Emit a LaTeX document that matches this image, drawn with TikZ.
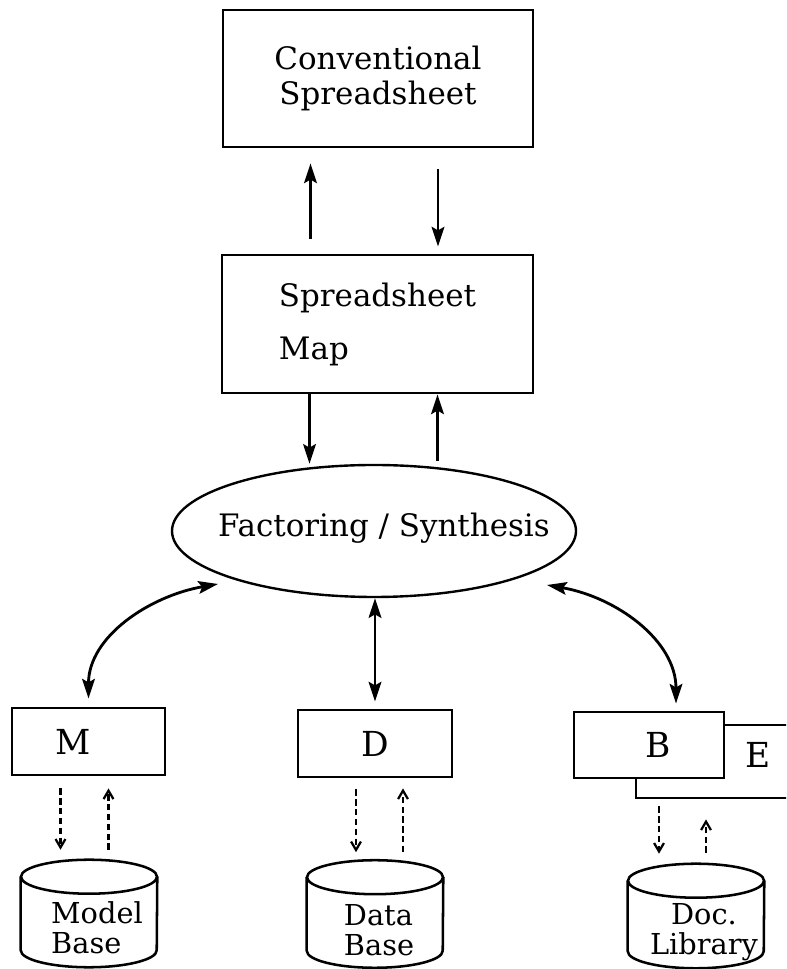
\documentclass[tikz,border=0pt]{standalone}
\usepackage{fontspec}
\setmainfont{DejaVu Serif}
\usetikzlibrary{arrows.meta,shapes.geometric}
\tikzset{
  box/.style={draw,line width=2pt,inner sep=0pt,fill=white},
  flow/.style={line width=2pt,-{Stealth[length=14pt,width=9pt,inset=2.5pt]}},
  link/.style={line width=2pt,{Stealth[length=14pt,width=9pt,inset=2.5pt]}-{Stealth[length=14pt,width=9pt,inset=2.5pt]}},
  query/.style={line width=1.6pt,dash pattern=on 4.5pt off 2.5pt,-{Straight Barb[length=6pt,width=7pt]}},
  big/.style={font=\fontsize{22}{25}\selectfont},
  letter/.style={font=\fontsize{24.5}{27}\selectfont},
  small/.style={font=\fontsize{20.5}{21.3}\selectfont},
}
% data base drawn round a named node
\newcommand{\dbase}[1]{%
  \draw[line width=1.8pt] ([yshift=-0.425cm]#1.north) ellipse [x radius=1.7cm,y radius=0.425cm];
  \draw[line width=1.8pt] ([yshift=-0.425cm]#1.north west) -- ([yshift=0.425cm]#1.south west)
    arc [start angle=180,end angle=360,x radius=1.7cm,y radius=0.425cm]
    -- ([yshift=-0.425cm]#1.north east);}
\begin{document}
\begin{tikzpicture}
\useasboundingbox (0,0) rectangle (19.65,24.225);
\clip (0,0) rectangle (19.65,24.225);
% coordinates
\coordinate (fsW) at ( 5.45, 9.625);%
\coordinate (fsE) at (13.675, 9.6);%
% upper boxes
\node[box,big,align=center,minimum width=7.75cm,minimum height=3.425cm] (Conv) at (9.45,22.2625) {Conventional\\Spreadsheet};
\node[box,big,align=left,minimum width=7.775cm,minimum height=3.45cm] (Map) at (9.4375,16.125) {Spreadsheet\\[12.7pt]Map};
\node[draw,line width=1.7pt,ellipse,inner sep=0pt,minimum width=10.1cm,minimum height=3.3cm] (FS) at (9.35,10.95) {};
\node[big] (FStxt) at (9.6,11.025) {Factoring / Synthesis};
% lower boxes
\node[box,letter,minimum width=3.825cm,minimum height=1.675cm] (M) at (2.2125,5.6875) {M\hspace{0.75cm}\null};
\node[box,letter,minimum width=3.85cm,minimum height=1.675cm] (D) at (9.375,5.6375) {D};
\node[box,minimum width=4.25cm,minimum height=1.825cm] (E) at (18.025,5.1875) {};
\node[letter] (Etxt) at (18.95,5.35) {E};
\node[box,letter,minimum width=3.75cm,minimum height=1.65cm] (B) at (16.225,5.6) {\hspace{0.45cm}B};
% bases
\node[minimum width=3.4cm,minimum height=2.675cm] (MB) at ( 2.225,1.3875) {};
\node[minimum width=3.4cm,minimum height=2.675cm] (DB) at ( 9.375,1.375) {};
\node[minimum width=3.4cm,minimum height=2.6cm]   (DL) at (17.4,1.325) {};
\dbase{MB}
\dbase{DB}
\dbase{DL}
\node[small,align=left]   (MBtxt) at ([xshift=0.2cm,yshift=-0.36cm]MB.center) {Model\\Base};
\node[small,align=left]   (DBtxt) at ([xshift=0.1cm,yshift=-0.4cm]DB.center)  {Data\\Base};
\node[small,align=center] (DLtxt) at ([xshift=0.2cm,yshift=-0.4cm]DL.center) {Doc.\\Library};
% top arrows
\draw[flow,shorten <=0.375cm,shorten >=0.375cm] ([xshift=-1.675cm]Map.north) -- ([xshift=-1.675cm]Map.north |- Conv.south);
\draw[flow,shorten <=0.525cm,shorten >=0.175cm] ([xshift=1.5cm]Conv.south) -- ([xshift=1.5cm]Conv.south |- Map.north);
\draw[flow] ([xshift=-1.7cm]Map.south) -- ([xshift=-1.7cm]Map.south |- FS.north);
\draw[flow,shorten <=0.075cm] ([xshift=1.5cm]Map.south |- FS.north) -- ([xshift=1.5cm]Map.south);
% links
\draw[link,shorten <=0.2cm] (M.north) to[out=90,in=190] (fsW);
\draw[link,shorten >=0.175cm] (D.north |- FS.south) -- (D.north);
\draw[link,shorten >=0.175cm] (fsE) to[out=-10,in=90] ([xshift=0.675cm]B.north);
% dashed arrows
\draw[query,shorten <=0.3cm,shorten >=0.25cm] ([xshift=-0.7cm]M.south) -- ([xshift=-0.7cm]M.south |- MB.north);
\draw[query,shorten <=0.25cm,shorten >=0.3cm] ([xshift=0.5cm]M.south |- MB.north) -- ([xshift=0.5cm]M.south);
\draw[query,shorten <=0.275cm,shorten >=0.2cm] ([xshift=-0.475cm]D.south) -- ([xshift=-0.475cm]D.south |- DB.north);
\draw[query,shorten <=0.2cm,shorten >=0.25cm] ([xshift=0.7cm]D.south |- DB.north) -- ([xshift=0.7cm]D.south);
\draw[query,shorten <=0.175cm,shorten >=0.25cm] ([xshift=0.25cm]B.south |- E.south) -- ([xshift=0.25cm]B.south |- DL.north);
\draw[query,shorten <=0.275cm,shorten >=0.5cm] ([xshift=1.425cm]B.south |- DL.north) -- ([xshift=1.425cm]B.south |- E.south);
\end{tikzpicture}
\end{document}
